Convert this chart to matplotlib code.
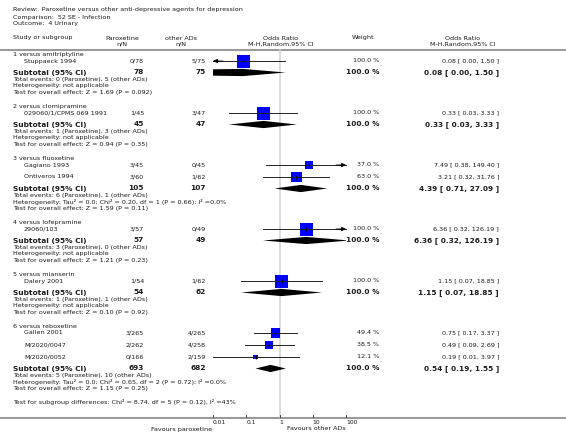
import numpy as np
import matplotlib
matplotlib.use("Agg")
import matplotlib.pyplot as plt
from matplotlib.transforms import blended_transform_factory

# ---------------- data ----------------
title_lines = ["Review:  Paroxetine versus other anti-depressive agents for depression",
               "Comparison:  52 SE - Infection",
               "Outcome:  4 Urinary"]

group_titles = ["1 versus amitriptyline", "2 versus clomipramine", "3 versus fluoxetine",
                "4 versus lofepramine", "5 versus mianserin", "6 versus reboxetine"]

study_names = ["Stuppaeck 1994", "029060/1/CPMS 069 1991", "Gagiano 1993", "Ontiveros 1994",
               "29060/103", "Dalery 2001", "Gallen 2001", "M/2020/0047", "M/2020/0052"]
study_group = [0, 1, 2, 2, 3, 4, 5, 5, 5]
study_parox = ["0/78", "1/45", "3/45", "3/60", "3/57", "1/54", "3/265", "2/262", "0/166"]
study_other = ["5/75", "3/47", "0/45", "1/62", "0/49", "1/62", "4/265", "4/258", "2/159"]
study_weight = [100.0, 100.0, 37.0, 63.0, 100.0, 100.0, 49.4, 38.5, 12.1]
study_or = [0.08, 0.33, 7.49, 3.21, 6.36, 1.15, 0.75, 0.49, 0.19]
study_lo = [0.00, 0.03, 0.38, 0.32, 0.32, 0.07, 0.17, 0.09, 0.01]
study_hi = [1.50, 3.33, 149.40, 31.76, 126.19, 18.85, 3.37, 2.69, 3.97]

sub_parox_n = [78, 45, 105, 57, 54, 693]
sub_other_n = [75, 47, 107, 49, 62, 682]
sub_or = [0.08, 0.33, 4.39, 6.36, 1.15, 0.54]
sub_lo = [0.00, 0.03, 0.71, 0.32, 0.07, 0.19]
sub_hi = [1.50, 3.33, 27.09, 126.19, 18.85, 1.55]
sub_events = ["Total events: 0 (Paroxetine), 5 (other ADs)",
              "Total events: 1 (Paroxetine), 3 (other ADs)",
              "Total events: 6 (Paroxetine), 1 (other ADs)",
              "Total events: 3 (Paroxetine), 0 (other ADs)",
              "Total events: 1 (Paroxetine), 1 (other ADs)",
              "Total events: 5 (Paroxetine), 10 (other ADs)"]
sub_het = ["Heterogeneity: not applicable",
           "Heterogeneity: not applicable",
           "Heterogeneity: Tau\u00b2 = 0.0; Chi\u00b2 = 0.20, df = 1 (P = 0.66); I\u00b2 =0.0%",
           "Heterogeneity: not applicable",
           "Heterogeneity: not applicable",
           "Heterogeneity: Tau\u00b2 = 0.0; Chi\u00b2 = 0.65, df = 2 (P = 0.72); I\u00b2 =0.0%"]
sub_test = ["Test for overall effect: Z = 1.69 (P = 0.092)",
            "Test for overall effect: Z = 0.94 (P = 0.35)",
            "Test for overall effect: Z = 1.59 (P = 0.11)",
            "Test for overall effect: Z = 1.21 (P = 0.23)",
            "Test for overall effect: Z = 0.10 (P = 0.92)",
            "Test for overall effect: Z = 1.15 (P = 0.25)"]
subgroup_diff = "Test for subgroup differences: Chi\u00b2 = 8.74, df = 5 (P = 0.12), I\u00b2 =43%"

axis_ticks = [0.01, 0.1, 1, 10, 100]
axis_tick_labels = ["0.01", "0.1", "1", "10", "100"]
favours_left = "Favours paroxetine"
favours_right = "Favours other ADs"

# ---------------- layout ----------------
W, H = 566, 441
fig = plt.figure(figsize=(W / 100, H / 100), dpi=100)
ax = fig.add_axes([0, 0, 1, 1])
ax.set_xlim(0, W)
ax.set_ylim(H, 0)
ax.axis("off")

FX0, FX1 = 213, 346
fax = fig.add_axes([FX0 / W, 0, (FX1 - FX0) / W, 1])
fax.set_xscale("log")
fax.set_xlim(0.01, 100)
fax.set_ylim(H, 0)
fax.axis("off")
fax.patch.set_alpha(0)

FONT = "DejaVu Sans"
fs_small = 4.6
fs_bold = 5.3
col_txt = "#1a1a1a"

def T(x, y, s, ha="left", fs=fs_small, bold=False, **kw):
    ax.text(x, y, s, ha=ha, va="center", fontsize=fs, family=FONT,
            fontweight="bold" if bold else "normal", color=col_txt, **kw)

# title
for i, line in enumerate(title_lines):
    T(13, 10 + 7 * i, line)

# header
X_NAME, X_STUDY = 13, 24
X_PAR, X_OTH = 144, 206
X_WT, X_OR = 379, 499
T(X_NAME, 38, "Study or subgroup")
T(122, 38, "Paroxetine", ha="center")
T(122, 44.5, "n/N", ha="center")
T(181, 38, "other ADs", ha="center")
T(181, 44.5, "n/N", ha="center")
T(281, 38, "Odds Ratio", ha="center")
T(281, 44.5, "M-H,Random,95% CI", ha="center")
T(363, 38, "Weight", ha="center")
T(463, 38, "Odds Ratio", ha="center")
T(463, 44.5, "M-H,Random,95% CI", ha="center")
ax.plot([0, W], [49.5, 49.5], color="#9a9a9a", lw=1.5, solid_capstyle="butt")

# vertical line of no effect
fax.axvline(1, ymin=1 - 417 / H, ymax=1 - 50 / H, color="#d4d4d4", lw=1.2, zorder=0)

def fmt_ci(o, l, h):
    return f"{o:.2f} [ {l:.2f}, {h:.2f} ]"

def arrow_head(x_tip, x_tail, yy):
    fax.annotate("", xy=(x_tip, yy), xytext=(x_tail, yy), annotation_clip=False,
                 arrowprops=dict(arrowstyle="-|>,head_length=0.25,head_width=0.12",
                                 color="black", lw=0.6, shrinkA=0, shrinkB=0),
                 zorder=5)

y = 54.5
for g in range(len(group_titles)):
    T(X_NAME, y, group_titles[g])
    idx = [i for i in range(len(study_names)) if study_group[i] == g]
    ys = y + 6.5
    for k, i in enumerate(idx):
        if k > 0:
            ys += 12
        T(X_STUDY, ys, study_names[i])
        T(X_PAR, ys, study_parox[i], ha="right")
        T(X_OTH, ys, study_other[i], ha="right")
        T(X_WT, ys, f"{study_weight[i]:.1f} %", ha="right")
        T(X_OR, ys, fmt_ci(study_or[i], study_lo[i], study_hi[i]), ha="right")
        side_px = 13.0 * np.sqrt(study_weight[i] / 100.0)
        side_pt = side_px * 0.72
        fax.scatter([study_or[i]], [ys], marker="s", s=side_pt ** 2, color="#0000ff",
                    edgecolors="none", zorder=3)
        lo = max(study_lo[i], 0.01)
        hi = min(study_hi[i], 100)
        fax.plot([lo, hi], [ys, ys], color="#222222", lw=0.7, zorder=4, clip_on=False)
        fax.plot([study_or[i]], [ys], marker="|", ms=2.5, color="black", mew=0.6, zorder=5)
        if study_lo[i] < 0.01:
            arrow_head(0.01, 0.02, ys)
        if study_hi[i] > 100:
            arrow_head(100, 50, ys)
    ysub = ys + 11.5
    T(X_NAME, ysub, "Subtotal (95% CI)", bold=True, fs=fs_bold)
    T(X_PAR, ysub, str(sub_parox_n[g]), ha="right", bold=True, fs=fs_bold)
    T(X_OTH, ysub, str(sub_other_n[g]), ha="right", bold=True, fs=fs_bold)
    T(X_WT, ysub, "100.0 %", ha="right", bold=True, fs=fs_bold)
    T(X_OR, ysub, fmt_ci(sub_or[g], sub_lo[g], sub_hi[g]), ha="right", bold=True, fs=fs_bold)
    dlo = max(sub_lo[g], 1e-9)
    fax.fill([dlo, sub_or[g], sub_hi[g], sub_or[g]], [ysub, ysub - 3.6, ysub, ysub + 3.6],
             color="black", lw=0, zorder=3)
    T(X_NAME, ysub + 7, sub_events[g])
    T(X_NAME, ysub + 13.5, sub_het[g])
    T(X_NAME, ysub + 20, sub_test[g])
    y = ysub + 20 + 14

T(X_NAME, 402, subgroup_diff)

# bottom axis
ax.plot([0, W], [417.5, 417.5], color="#9a9a9a", lw=1.5, solid_capstyle="butt")
bt = blended_transform_factory(fax.transData, ax.transData)
for v, lab in zip(axis_ticks, axis_tick_labels):
    fax.plot([v, v], [414.5, 417], color="#444444", lw=0.7, transform=bt, clip_on=False)
    fax.text(v, 422.5, lab, transform=bt, ha="left", va="center", fontsize=4.3,
             family=FONT, color=col_txt)
T(212, 429, favours_left, ha="right")
T(287, 429, favours_right, ha="left")

fig.savefig("out.png", dpi=100)
